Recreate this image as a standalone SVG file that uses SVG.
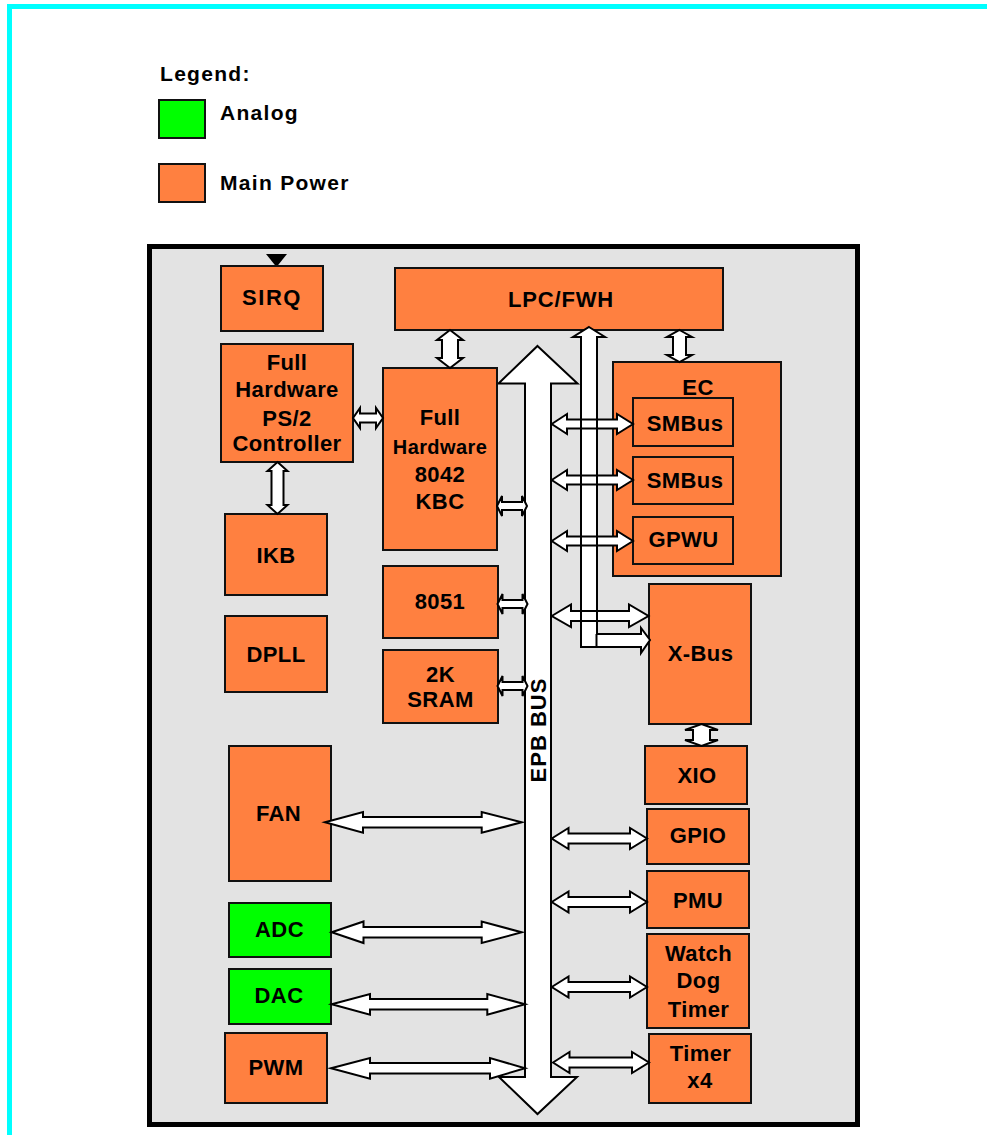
<svg xmlns="http://www.w3.org/2000/svg" width="987" height="1135" viewBox="0 0 987 1135">
<style>
.t{font-family:"Liberation Sans",Arial,sans-serif;font-weight:bold;font-size:22px;fill:#000;text-anchor:middle;letter-spacing:0.4px}
.lg{font-family:"Liberation Sans",Arial,sans-serif;font-weight:bold;font-size:21px;fill:#000;letter-spacing:1.3px}
.o{fill:#FF8040;stroke:#111;stroke-width:2}
.g{fill:#00FF00;stroke:#111;stroke-width:2}
.a{fill:#fff;stroke:#000;stroke-width:2;stroke-linejoin:miter}
.ao{fill:none;stroke:#000;stroke-width:2}
</style>
<rect x="0" y="0" width="987" height="1135" fill="#fff"/>
<rect x="9.5" y="6.5" width="1000" height="1200" fill="none" stroke="#00FFFF" stroke-width="5"/>

<g id="legend">
<text class="lg" x="160" y="81">Legend:</text>
<rect class="g" x="159" y="100" width="46" height="38"/>
<text class="lg" x="220" y="120">Analog</text>
<rect class="o" x="159" y="164" width="46" height="38"/>
<text class="lg" x="220" y="190">Main Power</text>
</g>

<g id="chip">
<rect x="149.5" y="246.5" width="708" height="878" fill="#E3E3E3" stroke="#000" stroke-width="5"/>
</g>

<g id="epb-bus">
<polygon class="a" points="537.5,346 577.5,383.5 551,383.5 551,1077 577,1077 537.5,1114 499,1077 525,1077 525,383.5 498.5,383.5"/>
<text class="t" transform="translate(546,730) rotate(-90)" x="0" y="0" style="letter-spacing:1px">EPB BUS</text>
</g>

<g id="sirq">
<polygon points="266,254 287,254 276.5,267" fill="#000"/>
<rect class="o" x="221" y="266" width="102" height="65"/>
<text class="t" x="272" y="305" style="letter-spacing:1.5px">SIRQ</text>
</g>
<g id="lpc">
<rect class="o" x="395" y="268" width="328" height="62"/>
<text class="t" x="561" y="307" style="letter-spacing:0.8px">LPC/FWH</text>
</g>
<g id="ps2">
<rect class="o" x="221" y="344" width="132" height="118"/>
<text class="t" x="287" y="369.5">Full</text>
<text class="t" x="287" y="397">Hardware</text>
<text class="t" x="287" y="426">PS/2</text>
<text class="t" x="287" y="451">Controller</text>
</g>
<g id="kbc">
<rect class="o" x="383" y="368" width="114" height="182"/>
<text class="t" x="440" y="425">Full</text>
<text class="t" x="440" y="453.5" style="font-size:20px">Hardware</text>
<text class="t" x="440" y="482">8042</text>
<text class="t" x="440" y="509">KBC</text>
</g>
<g id="ikb">
<rect class="o" x="225" y="514" width="102" height="81"/>
<text class="t" x="276" y="563">IKB</text>
</g>
<g id="dpll">
<rect class="o" x="225" y="616" width="102" height="76"/>
<text class="t" x="276" y="662">DPLL</text>
</g>
<g id="m8051">
<rect class="o" x="383" y="566" width="115" height="72"/>
<text class="t" x="440" y="609">8051</text>
</g>
<g id="sram">
<rect class="o" x="383" y="650" width="115" height="73"/>
<text class="t" x="440.5" y="681.5">2K</text>
<text class="t" x="440.5" y="706.5">SRAM</text>
</g>
<g id="ec">
<rect class="o" x="613" y="362" width="168" height="214"/>
<text class="t" x="698" y="395">EC</text>
</g>
<g id="smbus1">
<rect class="o" x="633" y="398" width="100" height="48"/>
<text class="t" x="685" y="431">SMBus</text>
</g>
<g id="smbus2">
<rect class="o" x="633" y="457" width="100" height="47"/>
<text class="t" x="685" y="487.5">SMBus</text>
</g>
<g id="gpwu">
<rect class="o" x="633" y="517" width="100" height="47"/>
<text class="t" x="683.5" y="547">GPWU</text>
</g>
<g id="xbus">
<rect class="o" x="649" y="584" width="102" height="140"/>
<text class="t" x="700.5" y="661">X-Bus</text>
</g>
<g id="xio">
<rect class="o" x="645" y="746" width="102" height="58"/>
<text class="t" x="697" y="782.5">XIO</text>
</g>
<g id="gpio">
<rect class="o" x="647" y="809" width="102" height="55"/>
<text class="t" x="698" y="843">GPIO</text>
</g>
<g id="pmu">
<rect class="o" x="647" y="871" width="102" height="57"/>
<text class="t" x="698" y="907.5">PMU</text>
</g>
<g id="wdt">
<rect class="o" x="647" y="934" width="102" height="94"/>
<text class="t" x="698.5" y="961">Watch</text>
<text class="t" x="698.5" y="988">Dog</text>
<text class="t" x="698.5" y="1017">Timer</text>
</g>
<g id="timer">
<rect class="o" x="649" y="1034" width="102" height="69"/>
<text class="t" x="700.5" y="1060.5">Timer</text>
<text class="t" x="700" y="1088">x4</text>
</g>
<g id="fan">
<rect class="o" x="229" y="746" width="102" height="135"/>
<text class="t" x="278.5" y="821">FAN</text>
</g>
<g id="adc">
<rect class="g" x="229" y="903" width="102" height="54"/>
<text class="t" x="279.5" y="936.5">ADC</text>
</g>
<g id="dac">
<rect class="g" x="229" y="969" width="102" height="55"/>
<text class="t" x="279" y="1003">DAC</text>
</g>
<g id="pwm">
<rect class="o" x="225" y="1033" width="102" height="70"/>
<text class="t" x="276" y="1075">PWM</text>
</g>

<g id="connectors">
<polygon class="a" points="353,418 360,408 360,413.5 376,413.5 376,408 383,418 376,428 376,422.5 360,422.5 360,428"/>
<polygon class="a" points="450,330 463,340 458,340 458,358 463,358 450,368 437,358 442,358 442,340 437,340"/>
<polygon class="a" points="277.5,462 287.5,471 283.5,471 283.5,505 287.5,505 277.5,514 267.5,505 271.5,505 271.5,471 267.5,471"/>
<polygon class="a" points="497,506 502,496 502,502 522,502 522,496 527,506 522,516 522,510 502,510 502,516"/>
<polygon class="a" points="497.5,604 502.5,594 502.5,600 522.5,600 522.5,594 527.5,604 522.5,614 522.5,608 502.5,608 502.5,614"/>
<polygon class="a" points="497.5,686 502.5,676 502.5,682 522.5,682 522.5,676 527.5,686 522.5,696 522.5,690 502.5,690 502.5,696"/>
<polygon fill="#fff" stroke="none" points="589,327 605,337 597,337 597,634 641,634 641,628 650,640 641,653 641,647 581,647 581,337 573,337"/>
<polygon class="a" points="551.7,424 567,414 567,419.5 617,419.5 617,414 633,424 617,434 617,428.5 567,428.5 567,434"/>
<polygon class="a" points="551.7,480 567,470 567,475.5 617,475.5 617,470 633,480 617,490 617,484.5 567,484.5 567,490"/>
<polygon class="a" points="551.7,541 567,531 567,536.5 617,536.5 617,531 633,541 617,551 617,545.5 567,545.5 567,551"/>
<polygon class="a" points="551.7,616 571,604.5 571,611 629,611 629,604.5 648.5,616 629,627 629,621 571,621 571,627"/>
<polygon class="ao" points="589,327 605,337 597,337 597,634 641,634 641,628 650,640 641,653 641,647 581,647 581,337 573,337"/>
<line x1="596.5" y1="634" x2="596.5" y2="647" stroke="#000" stroke-width="2"/>
<polygon class="a" points="679.5,330 692,337 686,337 686,355 692,355 679.5,362 667,355 673,355 673,337 667,337"/>
<polygon class="a" points="701.5,724 718,730 710,730 710,740 718,740 701.5,746 685,740 693,740 693,730 685,730"/>
<polygon class="a" points="551.7,838.5 568.5,828 568.5,833.5 630,833.5 630,828 647,838.5 630,849 630,843.5 568.5,843.5 568.5,849"/>
<polygon class="a" points="551.7,902 568.5,891.5 568.5,897 630,897 630,891.5 647,902 630,912.5 630,907 568.5,907 568.5,912.5"/>
<polygon class="a" points="551.7,987 568.5,976.5 568.5,982 630,982 630,976.5 647,987 630,997.5 630,992 568.5,992 568.5,997.5"/>
<polygon class="a" points="553,1062.5 569.5,1052 569.5,1057.5 632,1057.5 632,1052 649,1062.5 632,1073 632,1067.5 569.5,1067.5 569.5,1073"/>
<polygon class="a" points="325,822.3 363,812 363,817 481.7,817 481.7,812 521.7,822.3 481.7,832.7 481.7,827.5 363,827.5 363,832.7"/>
<polygon class="a" points="331.7,932.3 363.5,921.5 363.5,927 481.7,927 481.7,921.5 521.7,932.3 481.7,943 481.7,937.5 363.5,937.5 363.5,943"/>
<polygon class="a" points="331.7,1004.3 370,994 370,999 487.3,999 487.3,994 525,1004.3 487.3,1014.6 487.3,1009.5 370,1009.5 370,1014.6"/>
<polygon class="a" points="331,1068.3 370,1058 370,1063 490,1063 490,1058 525,1068.3 490,1078.6 490,1073.5 370,1073.5 370,1078.6"/>
</g>
</svg>
